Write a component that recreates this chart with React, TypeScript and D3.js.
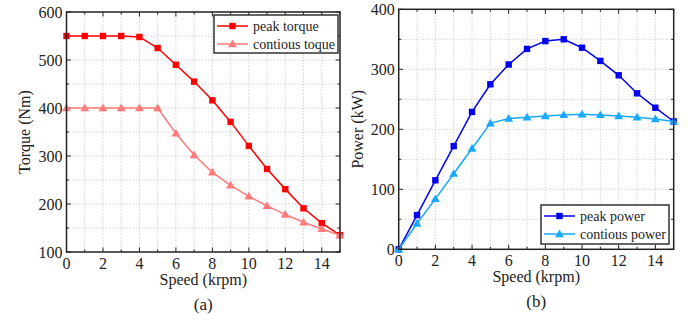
import React from 'react'
import * as d3 from 'd3'

// speed axis (krpm)
const speed = [0, 1, 2, 3, 4, 5, 6, 7, 8, 9, 10, 11, 12, 13, 14, 15]

// (a) torque, Nm
const peakTorque = [550, 550, 550, 550, 548, 525, 490, 455, 416, 371, 321, 273, 231, 191, 160, 135]
const contTorque = [400, 400, 400, 400, 400, 400, 347, 302, 266, 239, 216, 196, 178, 162, 148, 135]

// (b) power, kW
const peakPower = [0, 57, 115, 172, 229, 275, 308, 334, 347, 350, 336, 314, 290, 260, 236, 213]
const contPower = [0, 43, 84, 126, 168, 210, 218, 220, 222, 224, 225, 224, 222, 220, 217, 213]

const xTicks = [0, 2, 4, 6, 8, 10, 12, 14]
const torqueTicks = [100, 200, 300, 400, 500, 600]
const powerTicks = [0, 100, 200, 300, 400]

const FONT = '"Liberation Serif", "Times New Roman", serif'

type Series = { name: string; values: number[]; color: string; marker: 'square' | 'triangle' }

const Marker = ({ x, y, type, color }: { x: number; y: number; type: string; color: string }) => {
  if (type === 'square') {
    return <rect x={x - 3.2} y={y - 3.2} width={6.4} height={6.4} fill={color} />
  }
  const tri = d3.symbol().type(d3.symbolTriangle).size(34)()
  return <path d={tri as string} transform={`translate(${x},${y + 0.6})`} fill={color} />
}

const Panel = ({ left, right, top, bottom, yDomain, yTicks, yMinorStep, series, yTitle, caption, titleX, legend }: any) => {
  const x = d3.scaleLinear().domain([0, 15]).range([left, right])
  const y = d3.scaleLinear().domain(yDomain).range([bottom, top])
  const xGrid = d3.range(0, 16, 1)
  const yGrid = d3.range(yDomain[0], yDomain[1] + 1, yMinorStep)
  const line = d3.line<number>().x((_, i) => x(speed[i])).y(d => y(d))
  const cx = (left + right) / 2
  const cy = (top + bottom) / 2

  return (
    <g>
      {/* grid */}
      {xGrid.slice(1, -1).map(v => (
        <line key={'gx' + v} x1={x(v)} x2={x(v)} y1={top} y2={bottom} stroke="#c8c8c8" strokeWidth={0.8} strokeDasharray="1.5,1.5" />
      ))}
      {yGrid.slice(1, -1).map(v => (
        <line key={'gy' + v} x1={left} x2={right} y1={y(v)} y2={y(v)} stroke="#c8c8c8" strokeWidth={0.8} strokeDasharray="1.5,1.5" />
      ))}

      {/* ticks, inward on all sides */}
      {xGrid.map(v => {
        const len = v % 2 === 0 ? 4.5 : 2.5
        return (
          <g key={'tx' + v}>
            <line x1={x(v)} x2={x(v)} y1={bottom} y2={bottom - len} stroke="#222" strokeWidth={1} />
            <line x1={x(v)} x2={x(v)} y1={top} y2={top + len} stroke="#222" strokeWidth={1} />
          </g>
        )
      })}
      {yGrid.map(v => {
        const len = yTicks.includes(v) ? 4.5 : 2.5
        return (
          <g key={'ty' + v}>
            <line x1={left} x2={left + len} y1={y(v)} y2={y(v)} stroke="#222" strokeWidth={1} />
            <line x1={right} x2={right - len} y1={y(v)} y2={y(v)} stroke="#222" strokeWidth={1} />
          </g>
        )
      })}

      {/* series */}
      {series.map((s: Series) => (
        <g key={s.name}>
          <path d={line(s.values) as string} fill="none" stroke={s.color} strokeWidth={1.5} />
          {s.values.map((v, i) => (
            <Marker key={i} x={x(speed[i])} y={y(v)} type={s.marker} color={s.color} />
          ))}
        </g>
      ))}

      {/* frame */}
      <rect x={left} y={top} width={right - left} height={bottom - top} fill="none" stroke="#222" strokeWidth={1.5} />

      {/* tick labels */}
      {xTicks.map(v => (
        <text key={'lx' + v} x={x(v)} y={bottom + 17} textAnchor="middle" fontSize={16} fontFamily={FONT} fill="#222">{v}</text>
      ))}
      {yTicks.map((v: number) => (
        <text key={'ly' + v} x={left - 4} y={y(v) + 5.5} textAnchor="end" fontSize={16} fontFamily={FONT} fill="#222">{v}</text>
      ))}

      {/* titles */}
      <text x={cx} y={bottom + 33} textAnchor="middle" fontSize={16} fontFamily={FONT} fill="#222">Speed (krpm)</text>
      <text x={cx} y={bottom + 58} textAnchor="middle" fontSize={17} fontFamily={FONT} fill="#222">{caption}</text>
      <text transform={`translate(${titleX},${cy}) rotate(-90)`} textAnchor="middle" fontSize={16} fontFamily={FONT} fill="#222">{yTitle}</text>

      {/* legend */}
      <rect x={legend.x} y={legend.y} width={legend.w} height={legend.h} fill="#fff" stroke="#333" strokeWidth={1.5} />
      {series.map((s: Series, i: number) => {
        const ly = legend.y + 11 + i * 18
        const lx = legend.x + 3
        return (
          <g key={'lg' + s.name}>
            <line x1={lx} x2={lx + 31} y1={ly} y2={ly} stroke={s.color} strokeWidth={1.5} />
            <Marker x={lx + 15.5} y={ly} type={s.marker} color={s.color} />
            <text x={lx + 36} y={ly + 4.5} fontSize={14} fontFamily={FONT} fill="#222">{s.name}</text>
          </g>
        )
      })}
    </g>
  )
}

export default function App() {
  const torqueSeries: Series[] = [
    { name: 'peak torque', values: peakTorque, color: '#ff0000', marker: 'square' },
    { name: 'contious toque', values: contTorque, color: '#ff7a7a', marker: 'triangle' },
  ]
  const powerSeries: Series[] = [
    { name: 'peak power', values: peakPower, color: '#0000ee', marker: 'square' },
    { name: 'contious power', values: contPower, color: '#18a8ff', marker: 'triangle' },
  ]
  return (
    <svg width={694} height={322} style={{ position: 'absolute', left: 0, top: 0, background: '#fff' }}>
      <Panel
        left={66.5} right={340} top={12} bottom={252}
        yDomain={[100, 600]} yTicks={torqueTicks} yMinorStep={50}
        series={torqueSeries} yTitle="Torque (Nm)" caption="(a)" titleX={30}
        legend={{ x: 214, y: 15, w: 124, h: 38 }}
      />
      <Panel
        left={398.7} right={673.7} top={9.3} bottom={249.3}
        yDomain={[0, 400]} yTicks={powerTicks} yMinorStep={50}
        series={powerSeries} yTitle="Power (kW)" caption="(b)" titleX={363}
        legend={{ x: 541, y: 205, w: 128, h: 39 }}
      />
    </svg>
  )
}
